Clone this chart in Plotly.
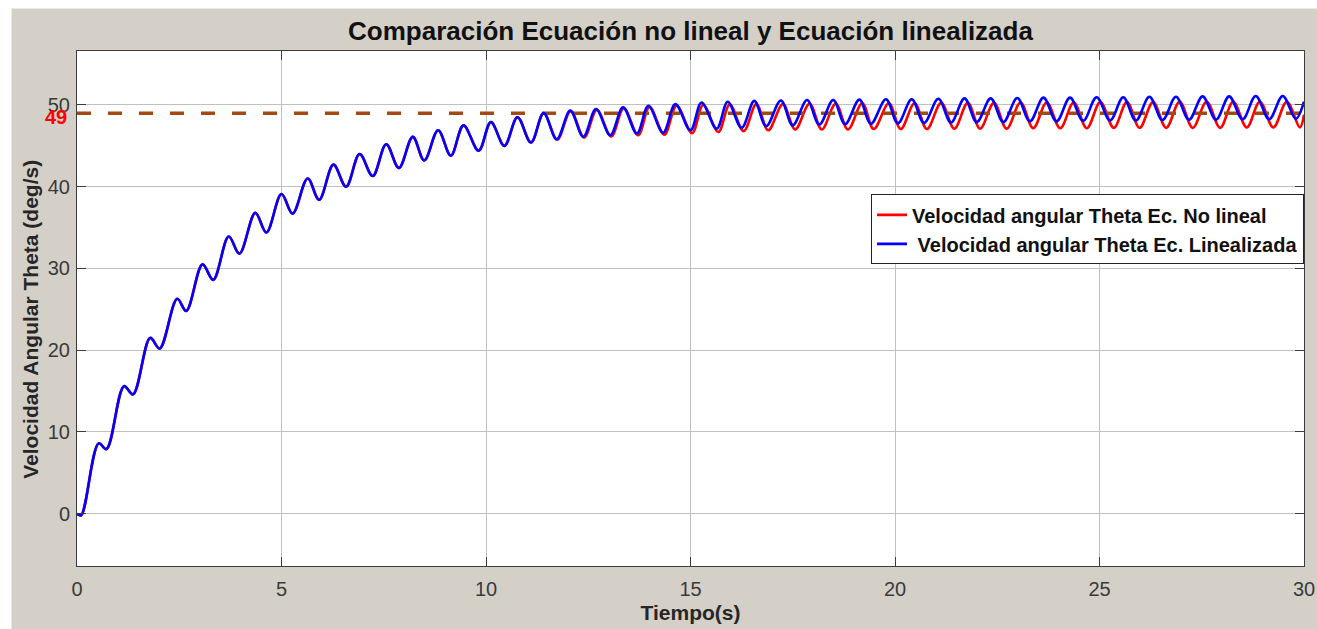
import plotly.graph_objects as go

# Extremos (picos y valles) de la velocidad angular, en segundos y deg/s
t_lin = [0.00, 0.10, 0.53, 0.72, 1.15, 1.37, 1.79, 2.02, 2.45, 2.67, 3.07, 3.33,
         3.71, 3.97, 4.36, 4.63, 5.00, 5.27, 5.64, 5.92, 6.27, 6.58, 6.91, 7.23,
         7.56, 7.87, 8.21, 8.49, 8.83, 9.14, 9.45, 9.82, 10.12, 10.45, 10.77, 11.10,
         11.41, 11.73, 12.06, 12.38, 12.69, 13.04, 13.35, 13.69, 13.97, 14.33, 14.63, 15.00,
         15.27, 15.64, 15.91, 16.25, 16.56, 16.85, 17.21, 17.50, 17.85, 18.15, 18.49, 18.78,
         19.13, 19.41, 19.78, 20.07, 20.41, 20.71, 21.06, 21.37, 21.70, 22.00, 22.34, 22.65,
         22.99, 23.30, 23.63, 23.95, 24.28, 24.60, 24.93, 25.26, 25.58, 25.89, 26.22, 26.54,
         26.87, 27.19, 27.52, 27.85, 28.17, 28.50, 28.82, 29.15, 29.48, 29.80, 30.00]
w_lin = [0.0, -0.2, 8.6, 7.9, 15.6, 14.6, 21.5, 20.2, 26.3, 24.8, 30.5, 28.6,
         33.9, 31.8, 36.8, 34.4, 39.1, 36.7, 41.0, 38.4, 42.7, 40.0, 44.0, 41.3,
         45.2, 42.3, 46.1, 43.2, 46.9, 43.8, 47.5, 44.4, 47.9, 45.0, 48.5, 45.4,
         49.0, 45.8, 49.3, 46.1, 49.5, 46.3, 49.7, 46.5, 49.9, 46.6, 50.1, 46.9,
         50.3, 47.1, 50.4, 47.2, 50.5, 47.4, 50.55, 47.5, 50.6, 47.6, 50.6, 47.65,
         50.65, 47.7, 50.7, 47.75, 50.7, 47.8, 50.75, 47.85, 50.8, 47.9, 50.8, 47.9,
         50.85, 48.0, 50.9, 48.0, 50.9, 48.05, 50.95, 48.1, 50.95, 48.1, 51.0, 48.15,
         51.0, 48.2, 51.05, 48.2, 51.05, 48.25, 51.1, 48.25, 51.1, 48.3, 50.4]

t_nolin = [0.00, 0.10, 0.53, 0.72, 1.15, 1.37, 1.79, 2.02, 2.45, 2.67, 3.07, 3.33,
           3.71, 3.97, 4.36, 4.63, 5.00, 5.27, 5.64, 5.92, 6.27, 6.58, 6.91, 7.23,
           7.56, 7.87, 8.21, 8.49, 8.83, 9.14, 9.45, 9.82, 10.12, 10.45, 10.77, 11.10,
           11.41, 11.74, 12.07, 12.40, 12.71, 13.06, 13.37, 13.72, 14.00, 14.36, 14.66, 15.04,
           15.31, 15.68, 15.96, 16.30, 16.61, 16.90, 17.26, 17.56, 17.91, 18.21, 18.55, 18.85,
           19.20, 19.48, 19.85, 20.14, 20.48, 20.78, 21.13, 21.45, 21.78, 22.08, 22.42, 22.73,
           23.07, 23.38, 23.71, 24.04, 24.37, 24.69, 25.02, 25.35, 25.67, 25.98, 26.31, 26.63,
           26.96, 27.28, 27.62, 27.95, 28.27, 28.60, 28.92, 29.25, 29.58, 29.90, 30.00]
w_nolin = [0.0, -0.2, 8.6, 7.9, 15.6, 14.6, 21.5, 20.2, 26.3, 24.8, 30.5, 28.6,
           33.9, 31.8, 36.8, 34.4, 39.1, 36.7, 41.0, 38.4, 42.7, 40.0, 44.0, 41.3,
           45.2, 42.3, 46.1, 43.2, 46.9, 43.8, 47.5, 44.4, 47.9, 45.0, 48.5, 45.4,
           49.0, 45.75, 49.25, 46.0, 49.4, 46.15, 49.6, 46.3, 49.75, 46.35, 49.9, 46.55,
           50.0, 46.7, 50.05, 46.8, 50.1, 46.9, 50.1, 47.0, 50.15, 47.0, 50.15, 47.0,
           50.2, 47.05, 50.2, 47.05, 50.2, 47.05, 50.25, 47.1, 50.25, 47.1, 50.25, 47.1,
           50.3, 47.15, 50.3, 47.15, 50.3, 47.15, 50.35, 47.2, 50.35, 47.2, 50.35, 47.2,
           50.4, 47.2, 50.4, 47.2, 50.4, 47.25, 50.4, 47.25, 50.4, 47.25, 48.8]

# Valor de referencia de la velocidad en régimen
w_ref = 49
t_range = [0, 30]

x_ticks = [0, 5, 10, 15, 20, 25, 30]
y_ticks = [0, 10, 20, 30, 40, 50]

FONT = "Liberation Sans"
GRAY_BG = "#d4d0c8"

fig = go.Figure()

fig.add_trace(go.Scatter(
    x=t_nolin, y=w_nolin, mode="lines", line_shape="spline",
    line=dict(color="#ff0000", width=2.6, smoothing=1),
    name="Velocidad angular Theta Ec. No lineal",
))
fig.add_trace(go.Scatter(
    x=t_range, y=[w_ref, w_ref], mode="lines",
    line=dict(color="#a24a12", width=3.5, dash="14px,17px"),
    showlegend=False,
))
fig.add_trace(go.Scatter(
    x=t_lin, y=w_lin, mode="lines", line_shape="spline",
    line=dict(color="#0000ff", width=2.6, smoothing=1),
    name="\u00a0Velocidad angular Theta Ec. Linealizada",
))

axis_common = dict(
    showgrid=True, gridcolor="#c0c0c0", gridwidth=1,
    zeroline=False, showline=True, linecolor="#3c3c3c", linewidth=1,
    mirror="ticks", ticks="inside", ticklen=9, tickcolor="#3c3c3c",
    tickfont=dict(family=FONT, size=20, color="#3a3a3a"),
    automargin=False,
)

fig.update_xaxes(
    range=[0, 30], tickvals=x_ticks, ticktext=[str(v) for v in x_ticks],
    title=dict(text="Tiempo(s)", font=dict(family=FONT, size=21, color="#262626", weight="bold"),
               standoff=6),
    ticklabelstandoff=5,
    **axis_common,
)
fig.update_yaxes(
    range=[-6.4, 56.6], tickvals=y_ticks, ticktext=[str(v) for v in y_ticks],
    ticklabelstandoff=2,
    **axis_common,
)

# Título del eje vertical
fig.add_annotation(
    x=(30 - 76.5) / 1227.5, xref="paper", y=(566 - 319) / 515.5, yref="paper",
    text="Velocidad Angular Theta (deg/s)", textangle=-90, showarrow=False,
    xanchor="center", yanchor="middle",
    font=dict(family=FONT, size=21, color="#262626", weight="bold"),
)

# Etiqueta del valor de referencia junto al eje
fig.add_annotation(
    x=0, xref="paper", y=w_ref, yref="y", text=str(w_ref), showarrow=False,
    xanchor="right", yanchor="middle", xshift=-8, yshift=-4,
    font=dict(family=FONT, size=20, color="#ff0000", weight="bold"),
)

# Franjas blancas en el borde superior e izquierdo de la ventana
fig.add_shape(type="rect", xref="paper", yref="paper", x0=-0.2, x1=1.2,
              y0=(566 - 8) / 515.5, y1=1.3, fillcolor="white", line_width=0, layer="above")
fig.add_shape(type="rect", xref="paper", yref="paper", x0=-0.2, x1=(11 - 76.5) / 1227.5,
              y0=-0.3, y1=1.3, fillcolor="white", line_width=0, layer="above")

fig.update_layout(
    width=1317, height=629,
    margin=dict(l=76.5, r=13, t=50.5, b=63, autoexpand=False),
    paper_bgcolor=GRAY_BG, plot_bgcolor="white",
    title=dict(text="Comparación Ecuación no lineal y Ecuación linealizada",
               x=0.5, xref="paper", xanchor="center", y=(629 - 31) / 629, yanchor="middle",
               font=dict(family=FONT, size=26, color="#111111", weight="bold")),
    legend=dict(
        x=1, xanchor="right", y=(566 - 194) / 515.5, yanchor="top",
        bgcolor="white", bordercolor="#222222", borderwidth=1,
        font=dict(family=FONT, size=20, color="#111111", weight="bold"),
        tracegroupgap=0, itemwidth=30,
    ),
    showlegend=True,
)

fig.write_html("out.html")
